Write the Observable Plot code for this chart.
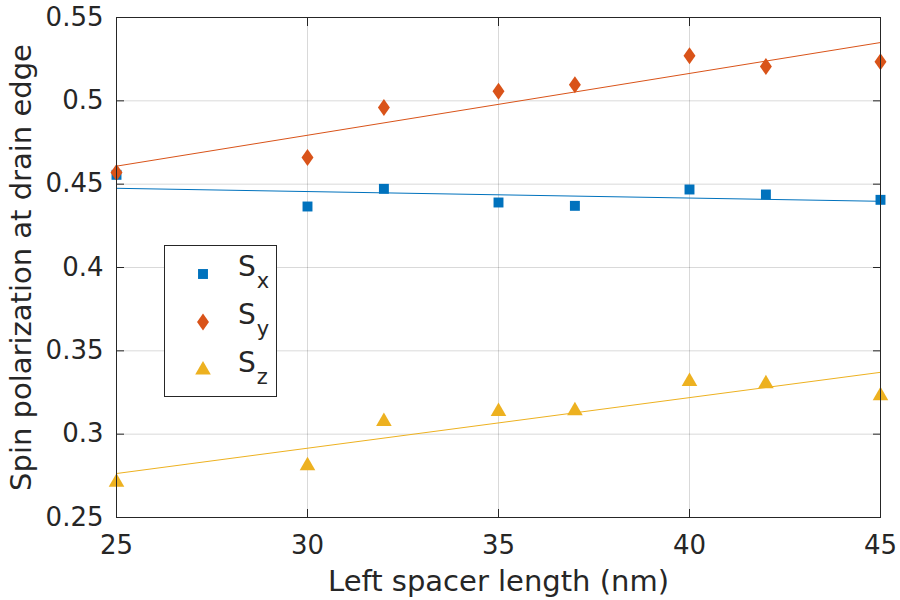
<!DOCTYPE html>
<html>
<head>
<meta charset="utf-8">
<script src="https://cdn.jsdelivr.net/npm/d3@7"></script>
<script src="https://cdn.jsdelivr.net/npm/@observablehq/plot@0.6"></script>
<style>
  body { margin: 0; background: #fff; font-family: "DejaVu Sans", sans-serif; }
  #wrap { position: relative; width: 900px; height: 600px; }
  #legend { position: absolute; left: 164px; top: 245px; width: 111px; height: 150px;
            border: 1px solid #262626; background: #fff; }
  .entry { position: absolute; left: 0; height: 40px; width: 110px; }
  .entry svg { position: absolute; left: 26px; top: 8px; }
  .entry .lbl { position: absolute; left: 73px; top: -4px; font-size: 28px; color: #262626; white-space: nowrap; }
  .entry .lbl sub { font-size: 21px; vertical-align: -12px; margin-left: 1px; }
</style>
</head>
<body>
<div id="wrap"></div>
<script>
const lengths = [25, 30, 32, 35, 37, 40, 42, 45];
const sx = [0.4556, 0.4366, 0.4472, 0.4390, 0.4370, 0.4468, 0.4438, 0.4406];
const sy = [0.4570, 0.4660, 0.4960, 0.5058, 0.5096, 0.5270, 0.5206, 0.5234];
const sz = [0.2712, 0.2810, 0.3076, 0.3136, 0.3140, 0.3316, 0.3302, 0.3230];
const seriesNames = ["x", "y", "z"];
const seriesColors = ["#0072BD", "#D95319", "#EDB120"];
const seriesSymbols = ["square", "diamond", "triangle"];
const xTicks = [25, 30, 35, 40, 45];
const yTicks = [0.25, 0.3, 0.35, 0.4, 0.45, 0.5, 0.55];
const yTickLabels = ["0.25", "0.3", "0.35", "0.4", "0.45", "0.5", "0.55"];
const xLabel = "Left spacer length (nm)";
const yLabel = "Spin polarization at drain edge";

const allSeries = [sx, sy, sz];
const data = [];
allSeries.forEach((vals, i) => vals.forEach((v, j) => data.push({x: lengths[j], y: v, s: seriesNames[i]})));

// MATLAB-like diamond (width/height ≈ 0.7)
const matlabDiamond = {
  draw(context, size) {
    const ratio = 0.7;
    const hy = Math.sqrt(size / (2 * ratio));
    const hx = hy * ratio;
    context.moveTo(0, -hy);
    context.lineTo(hx, 0);
    context.lineTo(0, hy);
    context.lineTo(-hx, 0);
    context.closePath();
  }
};
const symMap = {square: d3.symbolSquare, diamond: matlabDiamond, triangle: d3.symbolTriangle};
const ink = "#262626";
const symbolR = {square: 5.6, diamond: 5.7, triangle: 5.8};
const marks = [
  Plot.gridX(xTicks, {stroke: "#000", strokeOpacity: 0.15}),
  Plot.gridY(yTicks, {stroke: "#000", strokeOpacity: 0.15}),
];
seriesNames.forEach((name, i) => {
  const d = data.filter(e => e.s === name);
  marks.push(Plot.linearRegressionY(d, {x: "x", y: "y", stroke: seriesColors[i], strokeWidth: 1, ci: 0}));
});
seriesNames.forEach((name, i) => {
  const d = data.filter(e => e.s === name);
  marks.push(Plot.dot(d, {x: "x", y: "y", fill: seriesColors[i], symbol: symMap[seriesSymbols[i]], r: symbolR[seriesSymbols[i]], stroke: "none"}));
});
marks.push(
  Plot.axisX(xTicks, {anchor: "bottom", tickSize: 0, tickPadding: 18, fontSize: 26, color: ink, label: null}),
  Plot.axisX(xTicks, {anchor: "bottom", tickSize: -8, text: null, label: null, stroke: ink}),
  Plot.axisX(xTicks, {anchor: "top", tickSize: -8, text: null, label: null, stroke: ink}),
  Plot.axisY(yTicks, {anchor: "left", tickSize: 0, tickPadding: 13, fontSize: 26, color: ink,
    tickFormat: d => yTickLabels[yTicks.indexOf(d)], label: null}),
  Plot.axisY(yTicks, {anchor: "left", tickSize: -8, text: null, label: null, stroke: ink}),
  Plot.axisY(yTicks, {anchor: "right", tickSize: -8, text: null, label: null, stroke: ink}),
  Plot.frame({stroke: ink, strokeWidth: 1}),
  Plot.text([xLabel], {frameAnchor: "bottom", dy: 64, lineAnchor: "middle", fontSize: 29, fill: ink}),
  Plot.text([yLabel], {frameAnchor: "left", dx: -95, rotate: -90, lineAnchor: "middle", textAnchor: "middle", fontSize: 29, fill: ink})
);

const chart = Plot.plot({
  width: 900, height: 600,
  marginLeft: 116, marginRight: 20, marginTop: 17, marginBottom: 83,
  style: {fontFamily: "DejaVu Sans", fontSize: "26px", color: ink, background: "#fff", overflow: "visible"},
  x: {domain: [25, 45]},
  y: {domain: [0.25, 0.55]},
  marks
});
const wrap = document.getElementById("wrap");
wrap.appendChild(chart);

const legend = document.createElement("div");
legend.id = "legend";
seriesNames.forEach((name, i) => {
  const e = document.createElement("div");
  e.className = "entry";
  e.style.top = (8 + i * 48) + "px";
  const r = symbolR[seriesSymbols[i]];
  const path = d3.symbol(symMap[seriesSymbols[i]], r * r * Math.PI)();
  e.innerHTML = `<svg width="24" height="24"><path transform="translate(12,12)" d="${path}" fill="${seriesColors[i]}"/></svg>` +
    `<span class="lbl">S<sub>${name}</sub></span>`;
  legend.appendChild(e);
});
wrap.appendChild(legend);
</script>
</body>
</html>
